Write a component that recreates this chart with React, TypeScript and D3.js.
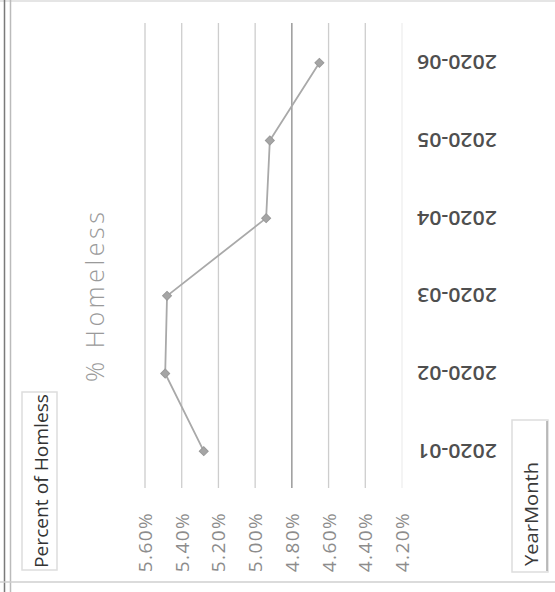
import React from "react";
import * as d3 from "d3";

// Monthly share of people experiencing homelessness
const months = ["2020-01", "2020-02", "2020-03", "2020-04", "2020-05", "2020-06"];
const percentHomeless = [0.0528, 0.0549, 0.0548, 0.0494, 0.0492, 0.0465];
const valueTicks = [0.056, 0.054, 0.052, 0.05, 0.048, 0.046, 0.044, 0.042];

const W = 555;
const H = 592;

export default function App() {
  // value axis runs horizontally, high values on the left
  const x = d3.scaleLinear().domain([0.056, 0.042]).range([145, 402]);
  // categories run vertically, first month at the bottom
  const y = d3
    .scalePoint<string>()
    .domain([...months].reverse())
    .range([24, 490])
    .padding(0.5);

  const data = months.map((m, i) => ({ m, v: percentHomeless[i] }));
  const line = d3
    .line<{ m: string; v: number }>()
    .x((d) => x(d.v))
    .y((d) => y(d.m) as number);

  const fmt = d3.format(".2%");
  // square marker turned 45° to form an even diamond
  const marker = d3.symbol(d3.symbolSquare, 40)() as string;

  const gridColor = (t: number) =>
    Math.abs(t - 0.048) < 1e-9 ? "#8a8a8a" : Math.abs(t - 0.042) < 1e-9 ? "#eeeeee" : "#cdcdcd";

  return (
    <svg
      width={W}
      height={H}
      style={{ position: "absolute", left: 0, top: 0, background: "#fff" }}
    >
      {/* frame */}
      <line x1={0} x2={W} y1={1} y2={1} stroke="#dddddd" strokeWidth={1.5} />
      <line x1={4.5} x2={4.5} y1={0} y2={H} stroke="#7a7a7a" strokeWidth={1.5} />
      <line x1={10.5} x2={10.5} y1={0} y2={H} stroke="#bbbbbb" strokeWidth={1.5} />
      <line x1={0} x2={W} y1={582} y2={582} stroke="#cfcfcf" strokeWidth={1.5} />

      {/* gridlines */}
      {valueTicks.map((t) => (
        <line
          key={t}
          x1={x(t)}
          x2={x(t)}
          y1={23}
          y2={488}
          stroke={gridColor(t)}
          strokeWidth={1.3}
        />
      ))}

      {/* value tick labels */}
      {valueTicks.map((t) => (
        <text
          key={"l" + t}
          transform={`translate(${x(t)},542) rotate(-90)`}
          textAnchor="middle"
          dominantBaseline="central"
          fontFamily="'Open Sans', sans-serif"
          fontSize={19}
          letterSpacing={1.4}
          fill="#8c8c8c"
        >
          {fmt(t)}
        </text>
      ))}

      {/* category labels, upside down */}
      {months.map((m) => (
        <text
          key={m}
          transform={`translate(457,${y(m)}) rotate(180)`}
          textAnchor="middle"
          dominantBaseline="central"
          fontFamily="'Open Sans', sans-serif"
          fontWeight={600}
          fontSize={20}
          textLength={80}
          lengthAdjust="spacingAndGlyphs"
          fill="#4f4f4f"
        >
          {m}
        </text>
      ))}

      {/* title */}
      <text
        transform="translate(94,297) rotate(-90)"
        textAnchor="middle"
        dominantBaseline="central"
        fontFamily="'Open Sans', sans-serif"
        fontWeight={300}
        fontSize={25}
        textLength={170}
        lengthAdjust="spacing"
        fill="#9a9a9a"
      >
        % Homeless
      </text>

      {/* series */}
      <path d={line(data) ?? ""} fill="none" stroke="#a9a9a9" strokeWidth={1.8} />
      {data.map((d) => (
        <path
          key={d.m}
          d={marker}
          transform={`translate(${x(d.v)},${y(d.m)}) rotate(45)`}
          fill="#a5a5a5"
          stroke="#9a9a9a"
        />
      ))}

      {/* field buttons */}
      <rect x={22} y={392} width={35} height={178} fill="none" stroke="#dddddd" strokeWidth={1.5} />
      <text
        transform="translate(41,481) rotate(-90)"
        textAnchor="middle"
        dominantBaseline="central"
        fontFamily="'Open Sans', sans-serif"
        fontSize={18}
        textLength={174}
        lengthAdjust="spacingAndGlyphs"
        fill="#333333"
      >
        Percent of Homless
      </text>

      <rect x={512} y={420} width={36} height={152} fill="none" stroke="#dddddd" strokeWidth={1.5} />
      <line x1={547} x2={547} y1={421} y2={571} stroke="#a8a8a8" strokeWidth={1.5} />
      <text
        transform="translate(531,514) rotate(-90)"
        textAnchor="middle"
        dominantBaseline="central"
        fontFamily="'Open Sans', sans-serif"
        fontSize={18}
        textLength={104}
        lengthAdjust="spacingAndGlyphs"
        fill="#3a3a3a"
      >
        YearMonth
      </text>
    </svg>
  );
}
